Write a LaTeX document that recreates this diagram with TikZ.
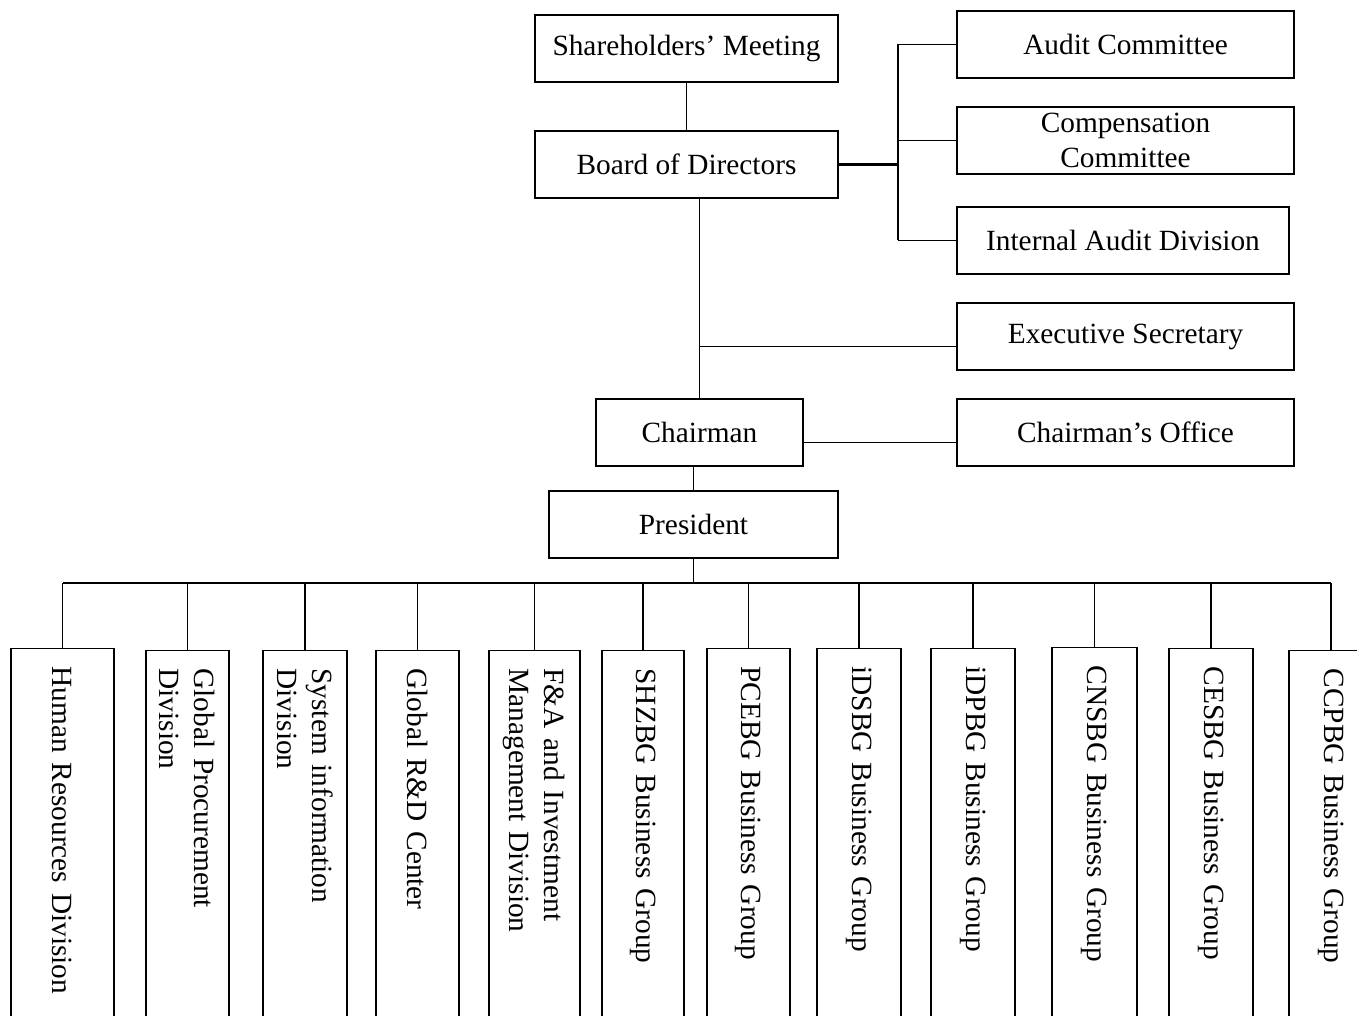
\documentclass[tikz,border=0pt]{standalone}
\usepackage{fontspec}
\setmainfont{Liberation Serif}
\begin{document}
\begin{tikzpicture}[x=0.75pt,y=-0.75pt,line width=0.9pt,
  every node/.style={font=\fontsize{22}{26.25}\selectfont},
  unit/.style={draw,line width=0.9pt,align=center,minimum height=50.25pt,inner sep=0pt},
  group/.style={draw,line width=0.9pt,rotate=-90,anchor=west,align=left,text width=273pt,
    inner xsep=13.5pt,inner ysep=0pt,minimum width=300pt}]
\useasboundingbox (0,0) rectangle (1357,1016);
\clip (0,0) rectangle (1357,1016);

\node[unit,minimum width=227.25pt] (share) at (686.5,48.5) {Shareholders' Meeting};
\node[unit,minimum width=227.25pt] (board) at (686.5,164.5) {Board of Directors};
\node[unit,minimum width=252.75pt] (audit) at (1125.5,44.5) {Audit Committee};
\node[unit,minimum width=252.75pt] (comp) at (1125.5,140.5) {Compensation\\Committee};
\node[unit,minimum width=249pt] (intaud) at (1123,240.5) {Internal Audit Division};
\node[unit,minimum width=252.75pt] (exec) at (1125.5,336.5) {Executive Secretary};
\node[unit,minimum width=155.25pt] (chair) at (699.5,432.5) {Chairman};
\node[unit,minimum width=252.75pt] (choff) at (1125.5,432.5) {Chairman's Office};
\node[unit,minimum width=216.75pt] (pres) at (693.5,524.5) {President};

\node[group,minimum height=77.25pt] (hr) at (62.5,648) {Human Resources Division};
\node[group,minimum height=62.25pt] (gp) at (187.5,650) {Global Procurement\\Division};
\node[group,minimum height=63pt] (si) at (305,650) {System information\\Division};
\node[group,minimum height=62.25pt] (rd) at (417.5,650) {Global R\&D Center};
\node[group,minimum height=68.25pt] (fa) at (534.5,650) {F\&A and Investment\\Management Division};
\node[group,minimum height=61.5pt] (shz) at (643,650) {SHZBG Business Group};
\node[group,minimum height=62.25pt] (pce) at (748.5,648) {PCEBG Business Group};
\node[group,minimum height=63pt] (ids) at (859,648) {iDSBG Business Group};
\node[group,minimum height=63pt] (idp) at (973,648) {iDPBG Business Group};
\node[group,minimum height=63.75pt] (cns) at (1094.5,647) {CNSBG Business Group};
\node[group,minimum height=63pt] (ces) at (1211,648) {CESBG Business Group};
\node[group,minimum height=63pt] (ccp) at (1331,650) {CCPBG Business Group};

\coordinate (brk) at (898,164.5);
\coordinate (bus) at (693.5,583);

\draw (share.south) -- (board.north);
\draw[line width=1.6pt] (board.east) -- (brk);
\draw (brk |- audit.west) -- (brk |- intaud.west);
\draw (brk |- audit.west) -- (audit.west);
\draw (brk |- comp.west) -- (comp.west);
\draw (brk |- intaud.west) -- (intaud.west);
\draw (chair.north |- board.south) -- (chair.north);
\draw ([yshift=-7.5pt]exec.west) -- ([yshift=-7.5pt]exec.west -| chair.north);
\draw ([yshift=-7.5pt]chair.east) -- ([yshift=-7.5pt]choff.west);
\draw (pres.north |- chair.south) -- (pres.north);
\draw (pres.south) -- (bus);
\draw (hr.west |- bus) -- (ccp.west |- bus);
\draw (hr.west) -- (hr.west |- bus);
\draw (gp.west) -- (gp.west |- bus);
\draw (si.west) -- (si.west |- bus);
\draw (rd.west) -- (rd.west |- bus);
\draw (fa.west) -- (fa.west |- bus);
\draw (shz.west) -- (shz.west |- bus);
\draw (pce.west) -- (pce.west |- bus);
\draw (ids.west) -- (ids.west |- bus);
\draw (idp.west) -- (idp.west |- bus);
\draw (cns.west) -- (cns.west |- bus);
\draw (ces.west) -- (ces.west |- bus);
\draw (ccp.west) -- (ccp.west |- bus);
\end{tikzpicture}
\end{document}
